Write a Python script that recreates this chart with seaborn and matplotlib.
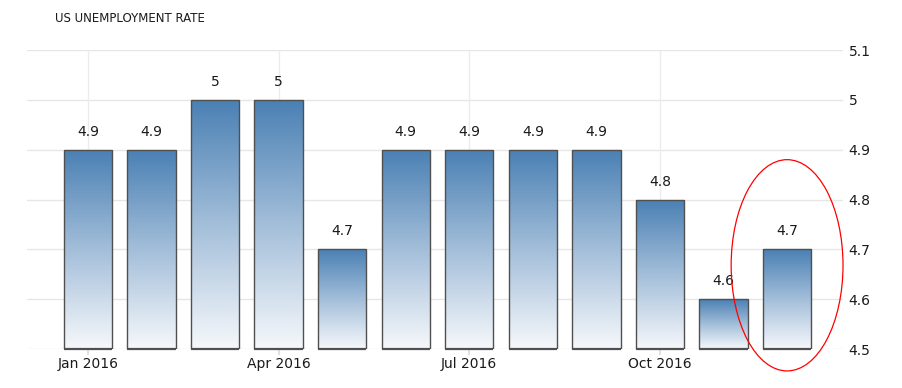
import numpy as np
import pandas as pd
import matplotlib
matplotlib.use("Agg")
import matplotlib.pyplot as plt
from matplotlib.colors import LinearSegmentedColormap
from matplotlib.patches import Ellipse
import seaborn as sns

months = ["Jan 2016", "Feb 2016", "Mar 2016", "Apr 2016", "May 2016", "Jun 2016",
          "Jul 2016", "Aug 2016", "Sep 2016", "Oct 2016", "Nov 2016", "Dec 2016"]
rates = [4.9, 4.9, 5.0, 5.0, 4.7, 4.9, 4.9, 4.9, 4.9, 4.8, 4.6, 4.7]
xtick_labels = ["Jan 2016", "Apr 2016", "Jul 2016", "Oct 2016"]
yticks = [4.5, 4.6, 4.7, 4.8, 4.9, 5.0, 5.1]

df = pd.DataFrame({"month": months, "rate": rates})

sns.set_theme(style="white")
plt.rcParams["font.family"] = ["DejaVu Sans"]

fig = plt.figure(figsize=(9.02, 3.88), dpi=100)
ax = fig.add_axes([0.0299, 0.1005, 0.9047, 0.7705])

sns.barplot(data=df, x="month", y="rate", ax=ax, width=0.76,
            color="#4a80b4", edgecolor="#505050", linewidth=1.0, zorder=3)

ymin, ymax = 4.5, 5.1
xlo, xhi = -0.96, 11.88

cmap = LinearSegmentedColormap.from_list("g", ["#f6f8fb", "#a3bed9", "#4a80b4"])
grad = np.linspace(0, 1, 256).reshape(-1, 1)
for p in list(ax.patches):
    x0 = p.get_x()
    w, h = p.get_width(), p.get_height()
    im = ax.imshow(grad, extent=[x0, x0 + w, ymin, h], origin="lower",
                   cmap=cmap, aspect="auto", zorder=2.5, interpolation="bicubic")
    im.set_clip_path(p)
    p.set_facecolor("none")
    ax.plot([x0, x0 + w], [ymin, ymin], color="#505050", linewidth=1.6,
            zorder=4, clip_on=False, solid_capstyle="butt")
    ax.text(x0 + w / 2, h + 0.022, f"{h:g}", ha="center", va="bottom",
            fontsize=10, color="#1a1a1a", zorder=5)

ax.set_xlim(xlo, xhi)
ax.set_ylim(ymin, ymax)

# grid
ax.set_yticks(yticks)
ax.set_yticklabels([f"{v:g}" for v in yticks])
for v in yticks:
    ax.axhline(v, color="#e6e6e6", linewidth=1, zorder=1)
xt_idx = [months.index(m) for m in xtick_labels]
for i in xt_idx:
    ax.axvline(i, color="#ececec", linewidth=1, zorder=1)
ax.set_xticks(xt_idx)
ax.set_xticklabels(xtick_labels)

ax.yaxis.tick_right()
ax.tick_params(axis="y", length=0, pad=4, labelsize=10, labelcolor="#1a1a1a")
ax.tick_params(axis="x", length=4, color="#dddddd", pad=2, labelsize=10,
               labelcolor="#1a1a1a", bottom=True)
for s in ax.spines.values():
    s.set_visible(False)
ax.set_xlabel("")
ax.set_ylabel("")

fig.text(55 / 902, 1 - 18 / 388, "US UNEMPLOYMENT RATE", fontsize=8.5,
         color="#1a1a1a", va="center", ha="left")

# highlight ellipse around last bar
last = len(rates) - 1
ell = Ellipse((last, 4.668), width=1.76, height=0.424, fill=False,
              edgecolor="red", linewidth=0.9, zorder=6, clip_on=False)
ax.add_patch(ell)

fig.savefig("out.png", dpi=100)
